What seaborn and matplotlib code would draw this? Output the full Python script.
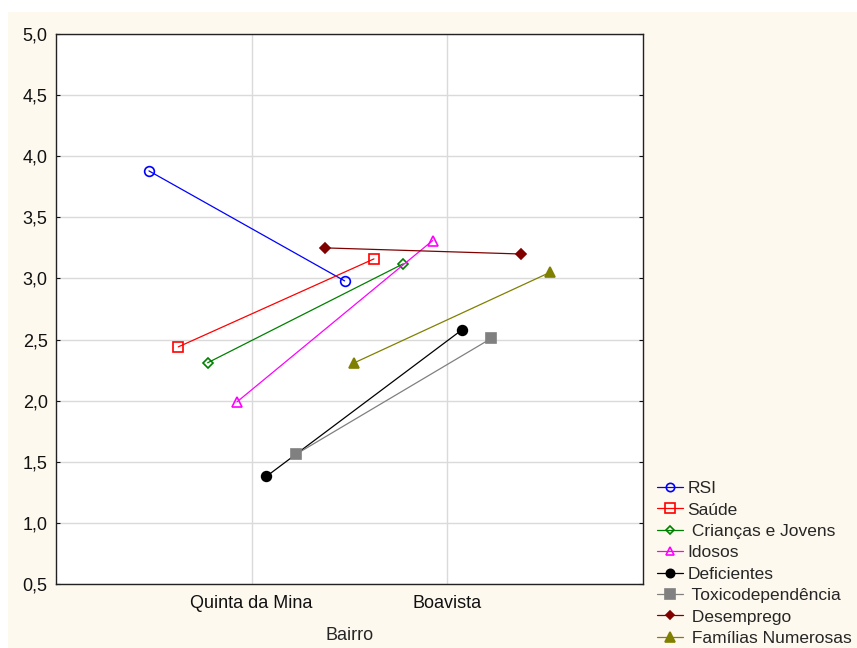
import matplotlib
matplotlib.use("Agg")
import matplotlib.pyplot as plt
from matplotlib.lines import Line2D
from matplotlib.patches import Rectangle
import seaborn as sns
import pandas as pd

# ---- data ----
bairros = ["Quinta da Mina", "Boavista"]
grupos = ["RSI", "Saúde", "Crianças e Jovens", "Idosos", "Deficientes",
          "Toxicodependência", "Desemprego", "Famílias Numerosas"]
rsi = [3.88, 2.98]
saude = [2.44, 3.16]
criancas = [2.31, 3.12]
idosos = [1.99, 3.31]
deficientes = [1.38, 2.58]
toxico = [1.56, 2.51]
desemprego = [3.25, 3.20]
familias = [2.31, 3.05]
y_ticks = [0.5, 1.0, 1.5, 2.0, 2.5, 3.0, 3.5, 4.0, 4.5, 5.0]
y_tick_labels = ["0,5", "1,0", "1,5", "2,0", "2,5", "3,0", "3,5", "4,0", "4,5", "5,0"]
legend_labels = ["RSI", "Saúde", " Crianças e Jovens", "Idosos", "Deficientes",
                 " Toxicodependência", " Desemprego", " Famílias Numerosas"]

series = [rsi, saude, criancas, idosos, deficientes, toxico, desemprego, familias]
rows = []
for g, vals in zip(grupos, series):
    for b, v in zip(bairros, vals):
        rows.append({"Bairro": b, "Grupo": g, "Valor": v})
df = pd.DataFrame(rows)

colors = ["#0000FF", "#FF0000", "#008000", "#FF00FF", "#000000",
          "#808080", "#800000", "#808000"]
markers = ["o", "s", "D", "^", "o", "s", "D", "^"]
open_marker = [True, True, True, True, False, False, False, False]
msizes = [7, 7.5, 5.5, 7, 7, 7.5, 5.5, 7.5]

sns.set_style("white")
plt.rcParams["font.family"] = ["Liberation Sans", "DejaVu Sans"]

FS = 13
LFS = 12.5
bg = "#FEF9EE"
fig = plt.figure(figsize=(8.57, 6.48), dpi=100)
fig.patch.set_facecolor("white")
fig.patches.append(Rectangle((8 / 857, 0), 1 - 8 / 857, 1 - 12 / 648,
                             transform=fig.transFigure, facecolor=bg,
                             edgecolor="none", zorder=-10))
ax = fig.add_axes([56 / 857, 1 - 584 / 648, (643 - 56) / 857, (584 - 34) / 648])
ax.set_facecolor("white")

sns.pointplot(data=df, x="Bairro", y="Valor", hue="Grupo", order=bairros,
              hue_order=grupos, palette=colors, markers=markers,
              linestyles="-", dodge=1.05, errorbar=None, legend=False,
              linewidth=0.9, markersize=7, markeredgewidth=1.2, ax=ax)

handles = []
for i, line in enumerate(ax.lines[:len(grupos)]):
    line.set_markersize(msizes[i])
    line.set_marker(markers[i])
    line.set_color(colors[i])
    line.set_markeredgecolor(colors[i])
    line.set_markerfacecolor("none" if open_marker[i] else colors[i])
    line.set_linewidth(0.9)
    line.set_zorder(3)
    handles.append(Line2D([0], [0], color=colors[i], marker=markers[i],
                          markersize=msizes[i] - 1, linewidth=0.9,
                          markeredgewidth=1.2, markeredgecolor=colors[i],
                          markerfacecolor="none" if open_marker[i] else colors[i]))

ax.set_xlim(-1, 2)
ax.set_ylim(0.5, 5.0)
ax.set_yticks(y_ticks)
ax.set_yticklabels(y_tick_labels)
ax.grid(True, color="#DADADA", linewidth=1.0, zorder=0)
ax.set_axisbelow(True)
for s in ax.spines.values():
    s.set_visible(True)
    s.set_color("#222222")
    s.set_linewidth(1.0)
ax.tick_params(axis="both", which="both", labelsize=FS, colors="#111111",
               direction="in", length=3, left=True, right=True, bottom=True,
               top=False, pad=6)
ax.tick_params(axis="x", length=0, pad=8)
ax.set_xlabel("Bairro", fontsize=FS, labelpad=11)
ax.set_ylabel("")

fig.legend(handles, legend_labels, loc="upper left",
           bbox_to_anchor=(657 / 857, 1 - 481 / 648), frameon=False,
           fontsize=LFS, handlelength=1.5, handletextpad=0.25,
           labelspacing=0.36, borderaxespad=0, borderpad=0)

fig.savefig("out.png", dpi=100, facecolor=fig.get_facecolor())
